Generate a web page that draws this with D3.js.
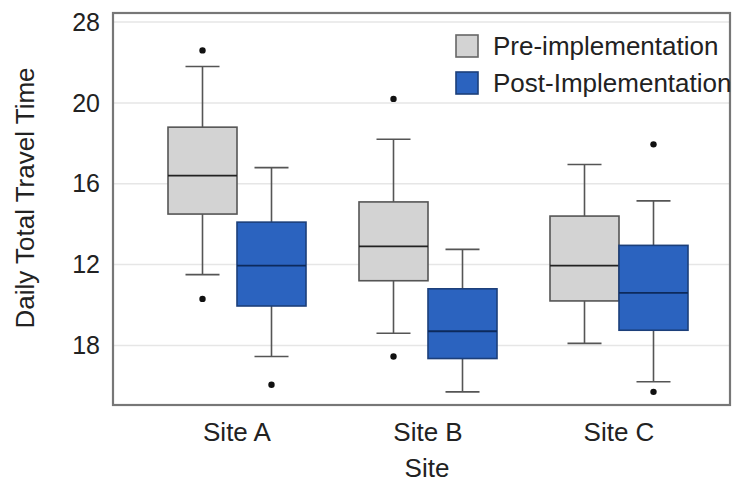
<!DOCTYPE html>
<html>
<head>
<meta charset="utf-8">
<script src="https://cdn.jsdelivr.net/npm/d3@7"></script>
<style>
body { margin:0; background:#fff; }
text { font-family: "Liberation Sans", Arial, sans-serif; fill:#222; }
</style>
</head>
<body>
<svg id="chart" width="742" height="484"></svg>
<script>
// data
var sites = ["Site A", "Site B", "Site C"];
var groups = ["Pre-implementation", "Post-Implementation"];
var group_colors = ["#d3d3d3", "#2b63bf"];
var tick_values = [24, 20, 16, 12, 8];
var tick_labels = ["28", "20", "16", "12", "18"];

// [lowWhisker, q1, median, q3, highWhisker]
var pre_stats = [
  [11.5, 14.5, 16.4, 18.8, 21.8],
  [8.6, 11.2, 12.9, 15.1, 18.2],
  [8.1, 10.2, 11.95, 14.4, 16.95]
];
var post_stats = [
  [7.45, 9.95, 11.95, 14.1, 16.8],
  [5.7, 7.35, 8.7, 10.8, 12.75],
  [6.2, 8.75, 10.6, 12.95, 15.15]
];
var pre_outliers = [[22.6, 10.3], [20.2, 7.45], []];
var post_outliers = [[6.05], [], [17.95, 5.7]];

/* layout */
var svg = d3.select("#chart");
var plot_left = 113, plot_right = 730, plot_top = 13, plot_bottom = 405;

var y = d3.scaleLinear().domain([5.05, 24.45]).range([plot_bottom, plot_top]);
var x = d3.scalePoint().domain(sites).range([237, 619]);
var boxw = 69;

// gridlines
svg.append("g").selectAll("line")
  .data(tick_values)
  .enter().append("line")
  .attr("x1", plot_left).attr("x2", plot_right)
  .attr("y1", function(d){ return y(d); })
  .attr("y2", function(d){ return y(d); })
  .attr("stroke", "#e6e6e6")
  .attr("stroke-width", 1.5);

// tick labels
svg.append("g").selectAll("text")
  .data(tick_values)
  .enter().append("text")
  .attr("x", 100)
  .attr("y", function(d){ return y(d); })
  .attr("dy", "0.35em")
  .attr("text-anchor", "end")
  .style("font-size", "25px")
  .text(function(d, i){ return tick_labels[i]; });

// boxes
function draw_boxes(stats, outliers, gi){
  var g = svg.append("g");
  sites.forEach(function(s, i){
    var st = stats[i];
    var x0 = gi == 0 ? x(s) - boxw : x(s);
    var cx = x0 + boxw / 2;
    // whiskers
    g.append("line").attr("x1", cx).attr("x2", cx)
      .attr("y1", y(st[3])).attr("y2", y(st[4]))
      .attr("stroke", "#555").attr("stroke-width", 1.6);
    g.append("line").attr("x1", cx).attr("x2", cx)
      .attr("y1", y(st[1])).attr("y2", y(st[0]))
      .attr("stroke", "#555").attr("stroke-width", 1.6);
    g.append("line").attr("x1", cx - 17).attr("x2", cx + 17)
      .attr("y1", y(st[4])).attr("y2", y(st[4]))
      .attr("stroke", "#555").attr("stroke-width", 1.6);
    g.append("line").attr("x1", cx - 17).attr("x2", cx + 17)
      .attr("y1", y(st[0])).attr("y2", y(st[0]))
      .attr("stroke", "#555").attr("stroke-width", 1.6);
    // box
    g.append("rect")
      .attr("x", x0).attr("width", boxw)
      .attr("y", y(st[3])).attr("height", y(st[1]) - y(st[3]))
      .attr("fill", group_colors[gi])
      .attr("stroke", gi == 0 ? "#555" : "#1c3f7a")
      .attr("stroke-width", 1.6);
    g.append("line").attr("x1", x0).attr("x2", x0 + boxw)
      .attr("y1", y(st[2])).attr("y2", y(st[2]))
      .attr("stroke", gi == 0 ? "#222" : "#0d2a5c").attr("stroke-width", 1.8);
    // outliers
    g.selectAll(null).data(outliers[i]).enter().append("circle")
      .attr("cx", cx).attr("cy", function(d){ return y(d); })
      .attr("r", 3.2).attr("fill", "#111");
  });
}
draw_boxes(pre_stats, pre_outliers, 0);
draw_boxes(post_stats, post_outliers, 1);

// frame
svg.append("rect")
  .attr("x", plot_left).attr("y", plot_top)
  .attr("width", plot_right - plot_left).attr("height", plot_bottom - plot_top)
  .attr("fill", "none").attr("stroke", "#777").attr("stroke-width", 2.2);

// x labels
svg.append("g").selectAll("text")
  .data(sites)
  .enter().append("text")
  .attr("x", function(d){ return x(d); })
  .attr("y", 441)
  .attr("text-anchor", "middle")
  .style("font-size", "26px")
  .text(function(d){ return d; });

svg.append("text")
  .attr("x", 427).attr("y", 477)
  .attr("text-anchor", "middle")
  .style("font-size", "26px")
  .text("Site");

svg.append("text")
  .attr("transform", "translate(34,198) rotate(-90)")
  .attr("text-anchor", "middle")
  .style("font-size", "26px")
  .text("Daily Total Travel Time");

// legend
var leg = svg.append("g");
groups.forEach(function(gname, i){
  var ly = 35 + i * 37;
  leg.append("rect")
    .attr("x", 456).attr("y", ly)
    .attr("width", 22).attr("height", 22)
    .attr("fill", group_colors[i])
    .attr("stroke", i == 0 ? "#666" : "#1c3f7a")
    .attr("stroke-width", 1.6);
  leg.append("text")
    .attr("x", 493).attr("y", ly + 11)
    .attr("dy", "0.35em")
    .style("font-size", "26px")
    .text(gname);
});
</script>
</body>
</html>
